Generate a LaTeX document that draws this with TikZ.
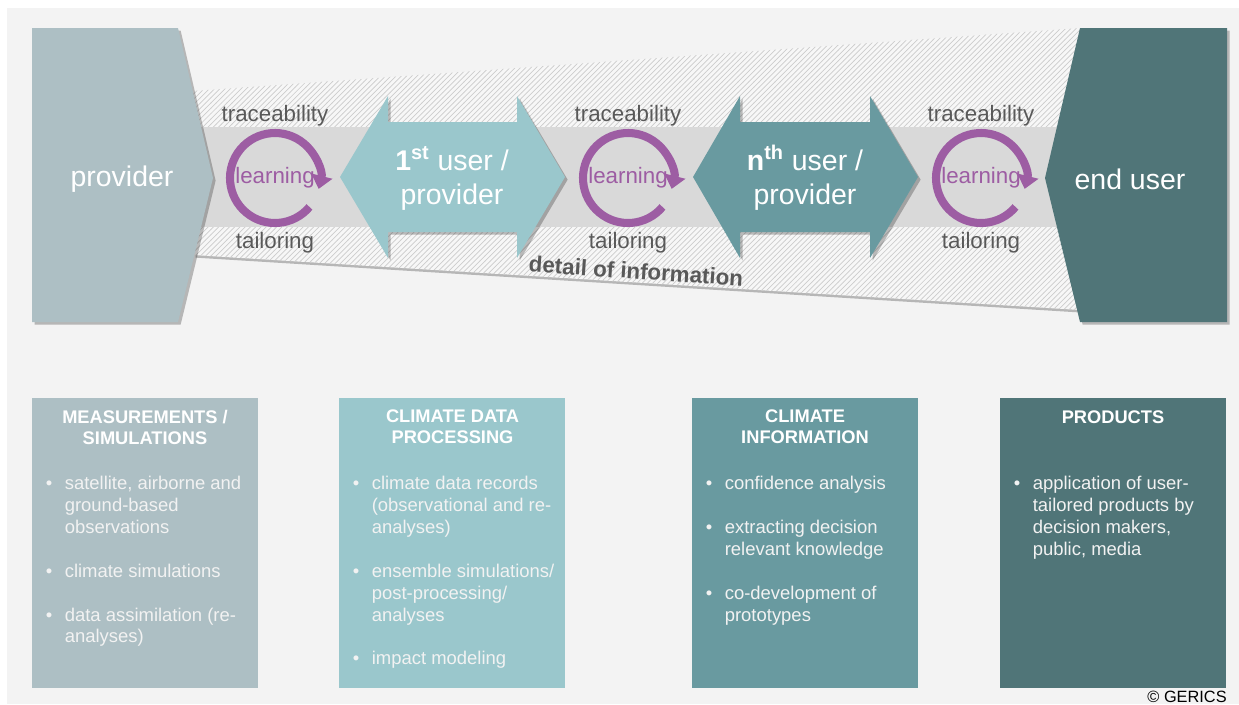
\documentclass[tikz,border=0pt]{standalone}
\usepackage{fontspec}
\setmainfont{Liberation Sans}
\usetikzlibrary{positioning, arrows.meta, patterns, shadows}

\definecolor{provcol}{RGB}{173,191,196}
\definecolor{firstcol}{RGB}{154,199,204}
\definecolor{nthcol}{RGB}{105,154,160}
\definecolor{endcol}{RGB}{80,117,120}
\definecolor{loopcol}{RGB}{157,93,163}
\definecolor{bandcol}{RGB}{217,217,217}
\definecolor{bgcol}{RGB}{243,243,243}
\definecolor{txtcol}{RGB}{89,89,89}

\newcommand{\itembul}{\makebox[10.8pt][l]{\textbullet}}
\newcommand{\itemind}{\hspace*{10.8pt}}

\begin{document}
\begin{tikzpicture}[
            x=0.02cm, y=-0.02cm,
            shape shadow/.style={drop shadow={shadow xshift=1.5pt, shadow yshift=-1.5pt, opacity=.25, fill=black}},
            bigtext/.style={text=white, align=center, font=\fontsize{16.2}{19.4}\selectfont},
            flowtext/.style={text=txtcol, font=\fontsize{12.7}{15}\selectfont},
            looptext/.style={text=loopcol, font=\fontsize{12.7}{15}\selectfont},
            cyclearrow/.style={draw=loopcol, line width=4.6pt, -{Triangle[width=12pt, length=7.5pt]}},
            infobox/.style={anchor=north west, minimum width=4.52cm, minimum height=5.8cm, inner sep=0pt},
            boxtitle/.style={text=white, align=center, font=\fontsize{10.4}{12}\selectfont\bfseries},
            boxlist/.style={text=white!95!black, align=left, anchor=north west, inner sep=0pt, font=\fontsize{10.5}{12.5}\selectfont},
        ]
            \useasboundingbox (0,0) rectangle (1239,704);
            \fill[white] (0,0) rectangle (1239,704);
            \fill[bgcol] (7,8) rectangle (1239,704);

            % hatched band and grey strip
            \path[fill=white!97!black, postaction={pattern=north east lines, pattern color=black!20}, shape shadow]
                (193,91) -- (1080,28) -- (1080,310) -- (193,255) -- cycle;
            \fill[bandcol] (195,127) rectangle (1070,227);

            % provider and end user
            \fill[provcol, shape shadow] (32,28) -- (178,28) -- (213,178) -- (178,322) -- (32,322) -- cycle;
            \node[bigtext] (provider) at (122,179) {provider};
            \fill[endcol, shape shadow] (1080,28) -- (1227,28) -- (1227,322) -- (1080,322) -- (1045,178) -- cycle;
            \node[bigtext] (enduser) at (1130,179) {end user};

            % double arrows
            \fill[firstcol, shape shadow] (340,177) -- (388,96) -- (388,122) -- (517,122) -- (517,96) -- (565,177)
                -- (517,258) -- (517,232) -- (388,232) -- (388,258) -- cycle;
            \node[bigtext] (first) at (452,178) {{\bfseries 1\textsuperscript{st}} user /\\provider};
            \fill[nthcol, shape shadow] (693,177) -- (740,96) -- (740,122) -- (870,122) -- (870,96) -- (918,177)
                -- (870,258) -- (870,232) -- (740,232) -- (740,258) -- cycle;
            \node[bigtext] (nth) at (805,178) {{\bfseries n\textsuperscript{th}} user /\\provider};

            % learning cycles
            \coordinate (c1) at (275,178);
            \draw[cyclearrow] (c1) ++(40:45) arc[start angle=40, end angle=374, radius=45];
            \node[flowtext] (trace1) at (275,116) {traceability};
            \node[looptext] (learn1) at (c1) {learning};
            \node[flowtext] (tailor1) at (275,243) {tailoring};

            \coordinate (c2) at (628,178);
            \draw[cyclearrow] (c2) ++(40:45) arc[start angle=40, end angle=374, radius=45];
            \node[flowtext] (trace2) at (628,116) {traceability};
            \node[looptext] (learn2) at (c2) {learning};
            \node[flowtext] (tailor2) at (628,243) {tailoring};

            \coordinate (c3) at (981,178);
            \draw[cyclearrow] (c3) ++(40:45) arc[start angle=40, end angle=374, radius=45];
            \node[flowtext] (trace3) at (981,116) {traceability};
            \node[looptext] (learn3) at (c3) {learning};
            \node[flowtext] (tailor3) at (981,243) {tailoring};

            \node[flowtext, font=\fontsize{12.7}{15}\selectfont\bfseries, rotate=-3.8] (detail) at (636,271) {detail of information};

            % info boxes
            \node[infobox, fill=provcol] (measbox) at (32,398) {};
            \node[boxtitle] (meastitle) at (145,427) {MEASUREMENTS /\\SIMULATIONS};
            \node[boxlist] (measlist) at (45.5,473.5) {\strut\itembul satellite, airborne and\\ \itemind ground-based\\ \itemind observations\\[12.5pt]
                \itembul climate simulations\\[12.5pt] \itembul data assimilation (re-\\ \itemind analyses)};

            \node[infobox, fill=firstcol] (procbox) at (339,398) {};
            \node[boxtitle] (proctitle) at (452.5,427) {CLIMATE DATA\\PROCESSING};
            \node[boxlist] (proclist) at (352.5,473.5) {\strut\itembul climate data records\\ \itemind (observational and re-\\ \itemind analyses)\\[12.5pt]
                \itembul ensemble simulations/\\ \itemind post-processing/\\ \itemind analyses\\[12.5pt] \itembul impact modeling};

            \node[infobox, fill=nthcol] (infobox) at (692,398) {};
            \node[boxtitle] (infotitle) at (805,427) {CLIMATE\\INFORMATION};
            \node[boxlist] (infolist) at (705.5,473.5) {\strut\itembul confidence analysis\\[12.5pt]
                \itembul extracting decision\\ \itemind relevant knowledge\\[12.5pt] \itembul co-development of\\ \itemind prototypes};

            \node[infobox, fill=endcol] (prodbox) at (1000,398) {};
            \node[boxtitle] (prodtitle) at (1113,417) {PRODUCTS};
            \node[boxlist] (prodlist) at (1013.5,473.5) {\strut\itembul application of user-\\ \itemind tailored products by\\
                \itemind decision makers,\\ \itemind public, media};

            \node[anchor=base east, inner sep=0pt, font=\fontsize{9.3}{11}\selectfont] (copyright) at (1227,702) {© GERICS};
        \end{tikzpicture}
\end{document}
